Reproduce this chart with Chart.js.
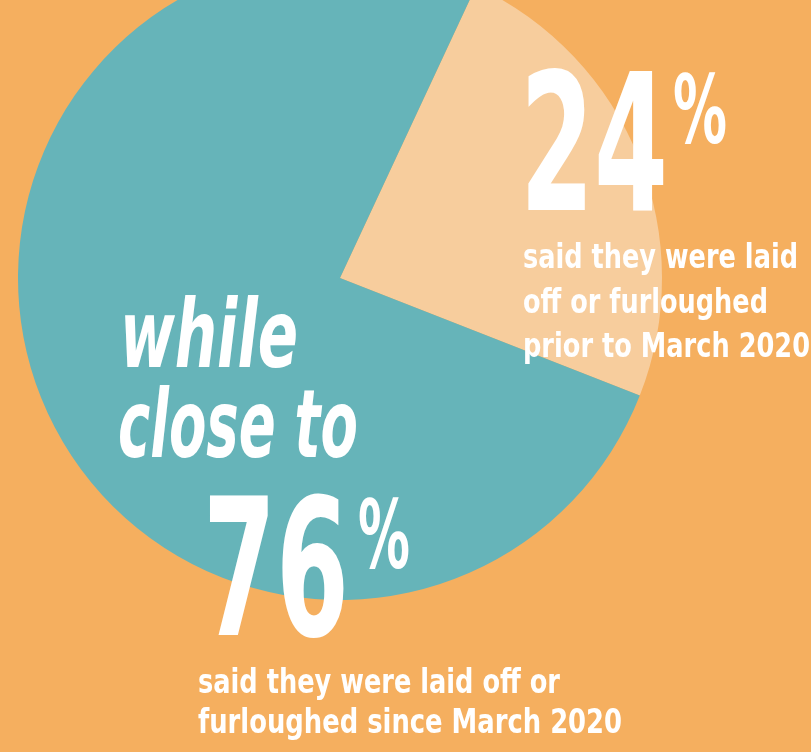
<!DOCTYPE html>
<html>
<head>
<meta charset="utf-8">
<script src="https://cdn.jsdelivr.net/npm/chart.js@4.4.1/dist/chart.umd.min.js"></script>
<style>
    html, body {
        margin: 0;
        padding: 0;
        width: 811px;
        height: 752px;
        overflow: hidden;
        background: #F5AF5F;
    }
    #pie {
        position: absolute;
        left: 0;
        top: -44px;
    }
    #labels {
        position: absolute;
        left: 0;
        top: 0;
    }
    #labels text {
        fill: #ffffff;
        font-family: "Liberation Sans Narrow", "DejaVu Sans Condensed", "Roboto", sans-serif;
        font-weight: bold;
    }
    #labels .it {
        font-style: italic;
    }
</style>
</head>
<body>
<canvas id="pie" width="811" height="796"></canvas>

<svg id="labels" width="811" height="752">
    <!-- parte destra (24%) -->
    <text x="520" y="210" font-size="190" textLength="148" lengthAdjust="spacingAndGlyphs">24</text>
    <text x="673" y="143" font-size="94" textLength="54" lengthAdjust="spacingAndGlyphs">%</text>
    <text x="523" y="268" font-size="33" textLength="275" lengthAdjust="spacingAndGlyphs">said they were laid</text>
    <text x="523" y="313" font-size="33" textLength="245" lengthAdjust="spacingAndGlyphs">off or furloughed</text>
    <text x="523" y="357" font-size="33" textLength="287" lengthAdjust="spacingAndGlyphs">prior to March 2020</text>

    <!-- parte sinistra (76%) -->
    <text class="it" x="120" y="367" font-size="94" textLength="178" lengthAdjust="spacingAndGlyphs">while</text>
    <text class="it" x="118" y="457" font-size="94" textLength="240" lengthAdjust="spacingAndGlyphs">close to</text>
    <text x="203" y="635" font-size="190" textLength="146" lengthAdjust="spacingAndGlyphs">76</text>
    <text x="358" y="568" font-size="94" textLength="52" lengthAdjust="spacingAndGlyphs">%</text>
    <text x="198" y="693" font-size="33" textLength="362" lengthAdjust="spacingAndGlyphs">said they were laid off or</text>
    <text x="198" y="733" font-size="33" textLength="424" lengthAdjust="spacingAndGlyphs">furloughed since March 2020</text>
</svg>

<script>
// dati del grafico
const sliceLabels = ['prior to March 2020', 'since March 2020'];
const sliceValues = [24, 76];
const sliceColors = ['#F7CD9D', '#66B4B9'];

const canvas = document.getElementById('pie');

// area del grafico: cerchio di raggio 322 centrato a (340, 278) nella pagina
new Chart(canvas, {
    type: 'pie',
    data: {
        labels: sliceLabels,
        datasets: [
            {
                data: sliceValues,
                backgroundColor: sliceColors,
                borderWidth: 0,
                hoverOffset: 0
            }
        ]
    },
    options: {
        responsive: false,
        animation: false,
        rotation: 25,
        layout: {
            padding: { left: 18, right: 149, top: 0, bottom: 152 }
        },
        plugins: {
            legend: { display: false },
            tooltip: { enabled: false }
        }
    }
});
</script>
</body>
</html>
